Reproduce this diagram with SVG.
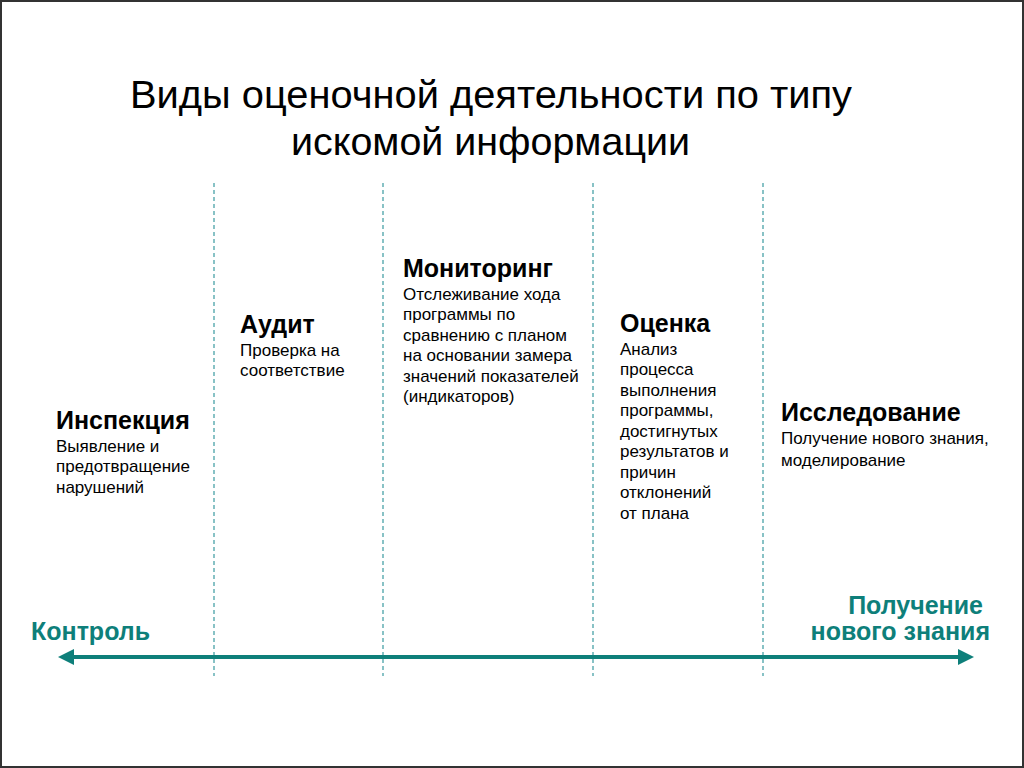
<svg xmlns="http://www.w3.org/2000/svg" width="1024" height="768" viewBox="0 0 1024 768">
<defs>
<style>
.title{font-family:"Liberation Sans",Arial,sans-serif;font-size:39px;fill:#000}
.h{font-family:"Liberation Sans",Arial,sans-serif;font-size:25px;font-weight:bold;fill:#000}
.d{font-family:"Liberation Sans",Arial,sans-serif;font-size:17px;fill:#000}
.t{font-family:"Liberation Sans",Arial,sans-serif;font-size:25px;font-weight:bold;fill:#0e7f7a}
.sep{stroke:#3a9aa0;stroke-width:1.2;stroke-dasharray:4 3;fill:none}
</style>
<marker id="ah" markerWidth="4" markerHeight="4" refX="1" refY="2" orient="auto-start-reverse" markerUnits="strokeWidth">
<path d="M0,0 L4,2 L0,4 Z" fill="#0e7f7a"/>
</marker>
</defs>
<rect x="0" y="0" width="1024" height="768" fill="#fff"/>
<rect x="1" y="1" width="1022" height="766" fill="none" stroke="#333" stroke-width="2"/>
<g id="title">
<text class="title" x="130" y="108" textLength="722" lengthAdjust="spacingAndGlyphs">Виды оценочной деятельности по типу</text>
<text class="title" x="291" y="155" textLength="399" lengthAdjust="spacingAndGlyphs">искомой информации</text>
</g>
<g id="separators">
<line class="sep" x1="214" y1="183" x2="214" y2="676"/>
<line class="sep" x1="383" y1="183" x2="383" y2="676"/>
<line class="sep" x1="593" y1="183" x2="593" y2="676"/>
<line class="sep" x1="763" y1="183" x2="763" y2="676"/>
</g>
<g id="inspection">
<text class="h" x="56" y="429">Инспекция</text>
<text class="d" x="56" y="452">Выявление и</text>
<text class="d" x="56" y="472">предотвращение</text>
<text class="d" x="56" y="493">нарушений</text>
</g>
<g id="audit">
<text class="h" x="240" y="333">Аудит</text>
<text class="d" x="240" y="356">Проверка на</text>
<text class="d" x="240" y="376">соответствие</text>
</g>
<g id="monitoring">
<text class="h" x="403" y="277">Мониторинг</text>
<text class="d" x="403" y="300">Отслеживание хода</text>
<text class="d" x="403" y="320">программы по</text>
<text class="d" x="403" y="341">сравнению с планом</text>
<text class="d" x="403" y="361">на основании замера</text>
<text class="d" x="403" y="382">значений показателей</text>
<text class="d" x="403" y="402">(индикаторов)</text>
</g>
<g id="evaluation">
<text class="h" x="620" y="332">Оценка</text>
<text class="d" x="620" y="355">Анализ</text>
<text class="d" x="620" y="375">процесса</text>
<text class="d" x="620" y="396">выполнения</text>
<text class="d" x="620" y="416">программы,</text>
<text class="d" x="620" y="437">достигнутых</text>
<text class="d" x="620" y="457">результатов и</text>
<text class="d" x="620" y="478">причин</text>
<text class="d" x="620" y="498">отклонений</text>
<text class="d" x="620" y="519">от плана</text>
</g>
<g id="research">
<text class="h" x="781" y="421">Исследование</text>
<text class="d" x="781" y="444">Получение нового знания,</text>
<text class="d" x="781" y="466">моделирование</text>
</g>
<g id="connectors">
<line x1="70" y1="657" x2="962" y2="657" stroke="#0e7f7a" stroke-width="4" marker-start="url(#ah)" marker-end="url(#ah)"/>
</g>
<g id="axis-labels">
<text class="t" x="31" y="640">Контроль</text>
<text class="t" x="983" y="614" text-anchor="end">Получение</text>
<text class="t" x="990" y="640" text-anchor="end">нового знания</text>
</g>
</svg>
